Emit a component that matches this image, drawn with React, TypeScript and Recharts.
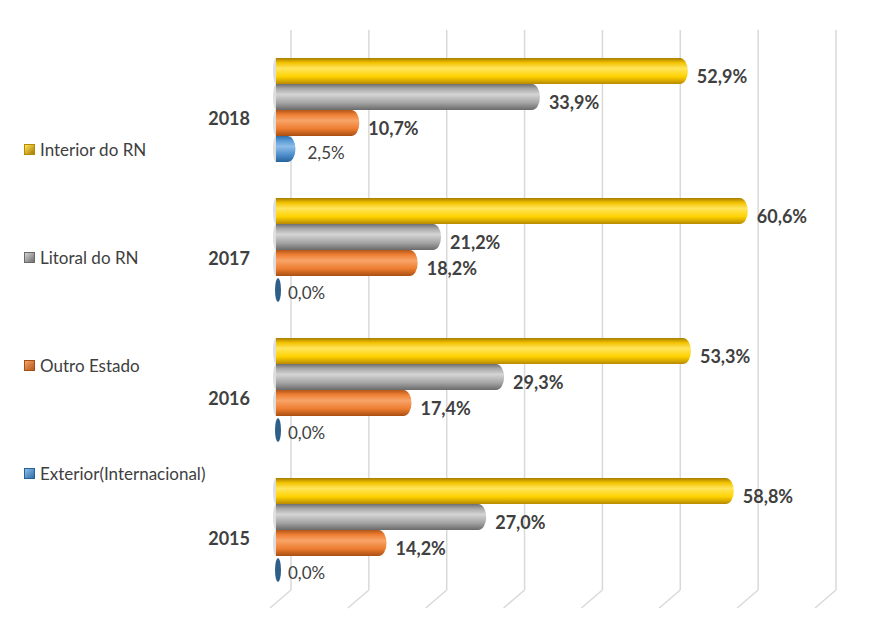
import React from 'react';
import { BarChart, Bar, XAxis, YAxis, CartesianGrid, Legend, LabelList } from 'recharts';

const years = ['2018', '2017', '2016', '2015'];
const interiorRN = [52.9, 60.6, 53.3, 58.8];
const litoralRN = [33.9, 21.2, 29.3, 27.0];
const outroEstado = [10.7, 18.2, 17.4, 14.2];
const exterior = [2.5, 0, 0, 0];
const xTicks = [0, 10, 20, 30, 40, 50, 60, 70];

const seriesInfo = [
  { key: 'interior', name: 'Interior do RN', stops: ['#A57C00', '#F2C200', '#FFE55C', '#FFD200', '#B88A00'], color: '#FFC000', bold: true },
  { key: 'litoral', name: 'Litoral do RN', stops: ['#6E6E6E', '#A9A9A9', '#D4D4D4', '#A5A5A5', '#6A6A6A'], color: '#A5A5A5', bold: true },
  { key: 'outro', name: 'Outro Estado', stops: ['#B2571A', '#EE7E32', '#F8A468', '#ED7D31', '#A94E12'], color: '#ED7D31', bold: true },
  { key: 'exterior', name: 'Exterior(Internacional)', stops: ['#2F6EA8', '#5B9BD5', '#8DBDE8', '#4F8FCC', '#25639C'], color: '#5B9BD5', bold: false },
];

const data = years.map((year, i) => ({
  year,
  interior: interiorRN[i],
  litoral: litoralRN[i],
  outro: outroEstado[i],
  exterior: exterior[i],
}));

const fmt = (v: any) => `${Number(v).toFixed(1).replace('.', ',')}%`;

const Cylinder = (props: any) => {
  const { x, y, width, height, gradId } = props;
  const r = height / 2;
  if (!width || width < 1) {
    return <ellipse cx={x + 2} cy={y + r + 1} rx={3} ry={r - 1} fill="#2E5E8A" />;
  }
  const rx = Math.min(8, width / 2);
  const d = `M${x},${y} H${x + width - rx} A${rx},${r} 0 0 1 ${x + width - rx},${y + height} H${x} Z`;
  return (
    <g>
      <ellipse cx={x} cy={y + r} rx={3} ry={r} fill="#C8C8C8" opacity={0.6} />
      <path d={d} fill={`url(#${gradId})`} />
    </g>
  );
};

const GridLine = (props: any) => {
  const { x1, y1, y2 } = props;
  return (
    <g>
      <line x1={x1 + 15} y1={y1 - 10} x2={x1 + 15} y2={y2 - 10} stroke="#D9D9D9" strokeWidth={1.5} />
      <line x1={x1 + 15} y1={y2 - 10} x2={x1 - 6} y2={y2 + 8} stroke="#D9D9D9" strokeWidth={1.5} />
    </g>
  );
};

const YearTick = (props: any) => {
  const { y, payload } = props;
  return (
    <text x={242} y={y + 8} textAnchor="end" dominantBaseline="central" fontSize={18} fontWeight={700} fill="#404040">
      {payload.value}
    </text>
  );
};

const makeLabel = (bold: boolean) => (p: any) => {
  const { x, y, width, height, value } = p;
  const off = width < 1 ? 12 : bold ? 9 : 12;
  return (
    <text
      x={x + width + off}
      y={y + height / 2 + (bold ? 5 : 3)}
      dominantBaseline="central"
      fill="#404040"
      fontSize={bold ? 18 : 17}
      fontWeight={bold ? 700 : 400}
      fontFamily="Lato, sans-serif"
    >
      {fmt(value)}
    </text>
  );
};

const LegendBox = () => (
  <div style={{ fontFamily: 'Lato, sans-serif', fontSize: 17, color: '#404040' }}>
    {seriesInfo.map((s) => (
      <div key={s.key} style={{ display: 'flex', alignItems: 'center', height: 20, marginBottom: 88 }}>
        <span
          style={{
            display: 'inline-block',
            width: 9,
            height: 9,
            marginRight: 5,
            background: `linear-gradient(135deg, ${s.stops[2]}, ${s.stops[0]})`,
            border: `1px solid ${s.stops[4]}`,
          }}
        />
        {s.name}
      </div>
    ))}
  </div>
);

export default function App() {
  return (
    <div style={{ fontFamily: 'Lato, sans-serif' }}>
      <BarChart
        width={870}
        height={618}
        data={data}
        layout="vertical"
        barSize={26}
        barGap={0}
        margin={{ top: 32, right: 57, bottom: 26, left: 208 }}
      >
        <defs>
          {seriesInfo.map((s) => (
            <linearGradient key={s.key} id={`grad-${s.key}`} x1="0" y1="0" x2="0" y2="1">
              <stop offset="0%" stopColor={s.stops[0]} />
              <stop offset="18%" stopColor={s.stops[1]} />
              <stop offset="40%" stopColor={s.stops[2]} />
              <stop offset="72%" stopColor={s.stops[3]} />
              <stop offset="100%" stopColor={s.stops[4]} />
            </linearGradient>
          ))}
        </defs>
        <CartesianGrid horizontal={false} vertical={(p: any) => <GridLine {...p} />} />
        <XAxis type="number" domain={[0, 70]} ticks={xTicks} hide />
        <YAxis type="category" dataKey="year" width={60} axisLine={false} tickLine={false} tick={<YearTick />} />
        <Legend
          layout="vertical"
          align="center"
          verticalAlign="middle"
          content={<LegendBox />}
          wrapperStyle={{ left: 16, top: 131, width: 240 }}
        />
        {seriesInfo.map((s) => (
          <Bar
            key={s.key}
            dataKey={s.key}
            name={s.name}
            fill={s.color}
            isAnimationActive={false}
            shape={(p: any) => <Cylinder {...p} gradId={`grad-${s.key}`} />}
          >
            <LabelList dataKey={s.key} content={makeLabel(s.bold)} />
          </Bar>
        ))}
      </BarChart>
    </div>
  );
}
